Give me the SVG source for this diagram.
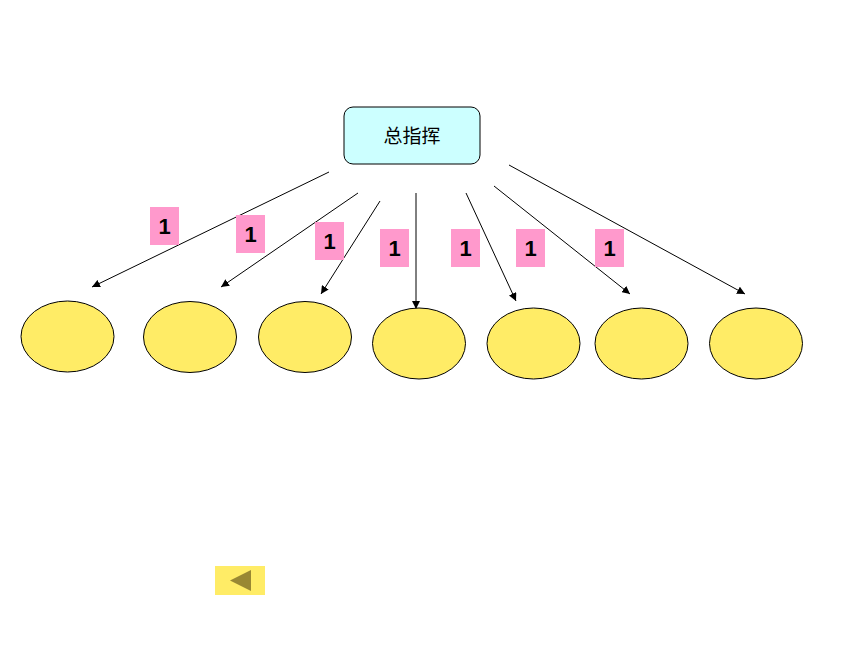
<svg xmlns="http://www.w3.org/2000/svg" width="860" height="645" viewBox="0 0 860 645">
<style>
.node{fill:#FFEC66;stroke:#000;stroke-width:1}
.lbl{fill:#FF99CC}
.lt{font-family:"Liberation Sans",Arial,sans-serif;font-weight:bold;font-size:22px;fill:#000;text-anchor:middle}
.conn line{stroke:#000;stroke-width:1;marker-end:url(#ah)}
</style>
<defs>
<marker id="ah" viewBox="0 0 10 10" refX="10" refY="5" markerWidth="8" markerHeight="8" markerUnits="userSpaceOnUse" orient="auto">
<path d="M0,0 L10,5 L0,10 z" fill="#000"/>
</marker>
</defs>
<rect width="860" height="645" fill="#fff"/>
<g id="root">
<rect x="344" y="107" width="136" height="57" rx="9" fill="#CCFFFF" stroke="#000" stroke-width="1"/>
<text x="412" y="143" font-family="'Noto Sans CJK SC',sans-serif" font-size="19" text-anchor="middle">总指挥</text>
</g>
<g id="connectors" class="conn">
<line x1="329" y1="172" x2="92" y2="287"/>
<line x1="358" y1="193" x2="221" y2="287"/>
<line x1="380" y1="201" x2="321" y2="294"/>
<line x1="416" y1="193" x2="416" y2="309"/>
<line x1="466" y1="193" x2="516" y2="301"/>
<line x1="494" y1="186" x2="630" y2="294"/>
<line x1="509" y1="165" x2="745" y2="294"/>
</g>
<g id="labels">
<g id="l1"><rect class="lbl" x="150" y="207" width="29" height="38"/><text class="lt" x="164.5" y="234">1</text></g>
<g id="l2"><rect class="lbl" x="236" y="215" width="29" height="38"/><text class="lt" x="250.5" y="242">1</text></g>
<g id="l3"><rect class="lbl" x="315" y="222" width="29" height="38"/><text class="lt" x="329.5" y="249">1</text></g>
<g id="l4"><rect class="lbl" x="380" y="229" width="29" height="38"/><text class="lt" x="394.5" y="256">1</text></g>
<g id="l5"><rect class="lbl" x="451" y="229" width="29" height="38"/><text class="lt" x="465.5" y="256">1</text></g>
<g id="l6"><rect class="lbl" x="516" y="229" width="29" height="38"/><text class="lt" x="530.5" y="256">1</text></g>
<g id="l7"><rect class="lbl" x="595" y="229" width="29" height="38"/><text class="lt" x="609.5" y="256">1</text></g>
</g>
<g id="n1"><ellipse class="node" cx="67.5" cy="336.5" rx="46.5" ry="35.5"/></g>
<g id="n2"><ellipse class="node" cx="190" cy="337" rx="46.5" ry="35.5"/></g>
<g id="n3"><ellipse class="node" cx="305" cy="337" rx="46.5" ry="35.5"/></g>
<g id="n4"><ellipse class="node" cx="419" cy="343.5" rx="46.5" ry="35.5"/></g>
<g id="n5"><ellipse class="node" cx="533.5" cy="343.5" rx="46.5" ry="35.5"/></g>
<g id="n6"><ellipse class="node" cx="641.5" cy="343.5" rx="46.5" ry="35.5"/></g>
<g id="n7"><ellipse class="node" cx="756" cy="343.5" rx="46.5" ry="35.5"/></g>
<g id="back">
<rect x="215" y="566" width="50" height="29" fill="#FFEC66"/>
<polygon points="230,580.5 251,570 251,591" fill="#998833"/>
</g>
</svg>
